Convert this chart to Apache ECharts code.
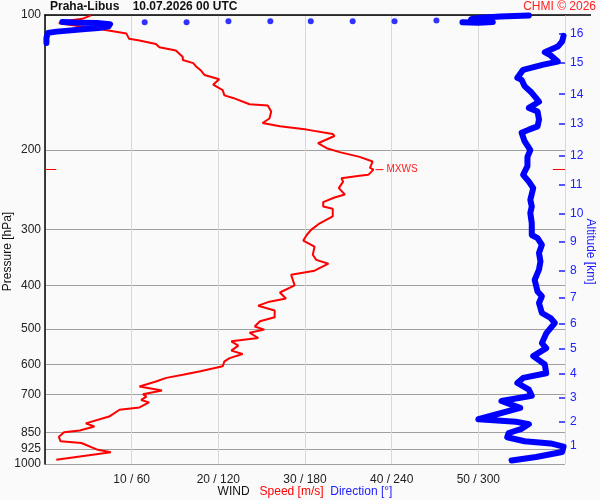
<!DOCTYPE html>
<html><head><meta charset="utf-8">
<script src="https://cdn.jsdelivr.net/npm/echarts@6/dist/echarts.min.js"></script>
<style>html,body{margin:0;padding:0;background:#fafafa}#c{width:600px;height:500px}</style>
</head><body><div id="c"></div>
<script>
const FONT = '"Liberation Sans", Arial, sans-serif';
const pressureTicks = [100, 200, 300, 400, 500, 600, 700, 850, 925, 1000];
const altKm = [1, 2, 3, 4, 5, 6, 7, 8, 9, 10, 11, 12, 13, 14, 15, 16];
const altPres = [912, 803.5, 710.7, 628.5, 552.8, 487.2, 425.8, 370.7, 320.4, 277.7, 239.2, 205.6, 175.0, 150.1, 127.8, 110.3];

const speedVal = [1.3,7.6,6.1,4.2,1.8,1.6,2.2,4.0,5.7,4.7,4.9,7.4,8.6,10.9,12.0,11.1,11.7,11.3,13.5,10.9,10.7,12.8,14.0,15.9,17.8,20.5,20.7,21.3,22.8,21.5,22.3,21.5,24.6,23.6,25.3,24.2,24.8,26.5,26.5,24.6,25.9,27.8,27.1,28.8,28.4,31.1,32.7,31.3,30.9,31.1,29.8,30.2,30.7,31.7,33.2,33.2,32.1,32.1,33.4,34.6,33.9,34.4,34.2,36.3,37.3,37.9,37.5,37.8,36.3,34.0,32.5,31.5,33.4,33.2,30.2,27.1,25.1,25.9,26.1,25.7,23.6,21.7,20.7,20.5,19.4,20.1,18.4,18.0,17.4,17.1,15.9,15.9,15.1,13.2,12.8,10.9,9.7,9.4,6.8,4.0,1.6,2.4,4.3,5.3];
const speedPres = [978,942,930,898,890,870,850,842,825,812,805,784,757,748,729,720,708,699,686,672,666,655,643,633,622,606,591,581,569,559,545,533,524,510,502,494,481,471,455,444,435,428,415,400,379,371,358,351,342,328,318,309,301,291,281,270,267,261,255,251,243,235,231,228,227,221,219,212,207,202,198,193,186,184,180,177,174,170,164,159,158,153,151,147,143,139,136,133,130,128,126,124,120,118,116,114,113,110,107.9,106,104.3,103.1,102,100.2];

const dirVal = [323,340,358,359,350,332,320,321,330,335,326,300,329,316,331,337,335,327,331,347,346,338,347,344,347,353,350,344,342,344,341,339,342,343,342,344,341,337,337,336,337,336,338,335,331,334,334,336,332,330,335,341,342,341,335,342,337,332,330,327,331,345,355,350,346,355,358,359];
const dirPres = [982,965,940,915,900,890,872,853,835,815,805,795,750,724,710,705,683,660,643,628,600,575,552,538,512,485,473,461,438,423,413,389,369,354,339,325,314,309,291,276,267,258,243,235,227,217,207,200,191,183,180,177,171,164,161,156,149,144,139.5,138,132.5,129,127,123,121,117.6,114.6,111.3];

const dirTopLeftVal = [1,1,2,8,18,28,37,44,45,36,24,12];
const dirTopLeftPres = [115.4,112.4,109.6,108.9,108.2,107.5,106.9,106,104.8,104.2,104,103.6];
const dirTopRightVal = [289,300,310,305,295,300,315,335];
const dirTopRightPres = [103.8,104,103.6,102.8,102.2,101.5,100.8,100.2];
const dirDotVal = [69,98,127,156,184,213,242,271];
const dirDotPres = [103.8,103.8,103.3,103.3,103.3,103.3,103.3,102.8];

const zip = (a, b) => a.map((v, i) => [v, b[i]]);
const iMax = speedVal.indexOf(Math.max(...speedVal));
const vMax = speedVal[iMax], pMax = speedPres[iMax];

const blueLine = { color: '#0000ff', width: 6, cap: 'round', join: 'round' };

const chart = echarts.init(document.getElementById('c'), null, { renderer: 'canvas' });
chart.setOption({
  backgroundColor: '#fafafa',
  animation: false,
  textStyle: { fontFamily: FONT },
  title: [
    { text: 'Praha-Libus    10.07.2026 00 UTC', left: 50, top: 1, padding: 0,
      textStyle: { fontSize: 12, fontWeight: 'bold', color: '#111', fontFamily: FONT } },
    { text: 'CHMI © 2026', right: 4, top: 1, padding: 0,
      textStyle: { fontSize: 12, fontWeight: 'normal', color: '#ff2020', fontFamily: FONT } }
  ],
  grid: { left: 45, right: 35, top: 15, bottom: 36, containLabel: false, outerBoundsMode: 'none' },
  xAxis: [
    { type: 'value', min: 0, max: 60, interval: 10, position: 'bottom',
      axisLine: { show: false, onZero: false }, axisTick: { show: false },
      axisLabel: { color: '#222', fontSize: 12, margin: 10,
        formatter: v => (v === 0 || v === 60) ? '' : v + ' / ' + v * 6 },
      splitLine: { show: true, lineStyle: { color: '#d8d8d8', width: 1 } },
      name: '{a|WIND}   {b|Speed [m/s]}  {c|Direction [°]}', nameLocation: 'middle', nameGap: 22,
      nameMoveOverlap: false,
      nameTextStyle: { fontSize: 12, rich: {
        a: { color: '#111', fontSize: 12, fontFamily: FONT },
        b: { color: '#ff0000', fontSize: 12, fontFamily: FONT },
        c: { color: '#2020ff', fontSize: 12, fontFamily: FONT } } } },
    { type: 'value', min: 0, max: 360, position: 'top',
      axisLine: { show: true, onZero: false, lineStyle: { color: '#000', width: 1.5 } },
      axisTick: { show: false }, axisLabel: { show: false }, splitLine: { show: false } }
  ],
  yAxis: [
    { type: 'log', logBase: 10, min: 100, max: 1000, inverse: true, position: 'left',
      axisLine: { show: true, onZero: false, lineStyle: { color: '#000', width: 1.5 } },
      axisTick: { show: false, customValues: pressureTicks },
      axisLabel: { customValues: pressureTicks, color: '#222', fontSize: 12, margin: 4,
        formatter: v => String(Math.round(v)) },
      splitLine: { show: true, lineStyle: { color: '#a0a0a0', width: 1 } },
      name: 'Pressure [hPa]', nameLocation: 'middle', nameGap: 31, nameRotate: 90,
      nameMoveOverlap: false,
      nameTextStyle: { fontSize: 12, color: '#111', padding: [0, 24, 0, 0] } },
    { type: 'log', logBase: 10, min: 100, max: 1000, inverse: true, position: 'right',
      axisLine: { show: false, onZero: false },
      axisTick: { show: true, inside: true, length: 6, customValues: altPres,
        lineStyle: { color: '#2020ff', width: 1.5 } },
      axisLabel: { customValues: altPres, color: '#2020ff', fontSize: 12, margin: 5,
        formatter: v => {
          let best = 0;
          altPres.forEach((p, i) => { if (Math.abs(p - v) < Math.abs(altPres[best] - v)) best = i; });
          return String(altKm[best]);
        } },
      splitLine: { show: false },
      name: 'Altitude [km]', nameLocation: 'middle', nameGap: 19, nameRotate: -90,
      nameMoveOverlap: false,
      nameTextStyle: { fontSize: 12, color: '#2020ff', padding: [0, 0, 0, 24] } }
  ],
  graphic: [
    { type: 'line', shape: { x1: 565, y1: 15, x2: 591, y2: 15 }, style: { stroke: '#000', lineWidth: 1.5 }, silent: true }
  ],
  series: [
    { name: 'Speed', type: 'line', xAxisIndex: 0, yAxisIndex: 0, data: zip(speedVal, speedPres),
      symbol: 'none', clip: true, z: 3,
      lineStyle: { color: '#ff0000', width: 2 },
      markPoint: { silent: true, symbol: 'rect', symbolSize: [8, 1], symbolOffset: [6, 0],
        itemStyle: { color: '#ff0000' },
        label: { show: true, position: 'right', distance: 3, formatter: 'MXWS', color: '#ff2020', fontSize: 10 },
        data: [{ coord: [vMax, pMax] }] },
      markLine: { silent: true, symbol: 'none', label: { show: false },
        lineStyle: { color: '#ff0000', width: 1, type: 'solid' },
        data: [ [{ coord: [0, pMax] }, { coord: [1.3, pMax] }],
                [{ coord: [58.6, pMax] }, { coord: [60, pMax] }] ] } },
    { name: 'Direction', type: 'line', xAxisIndex: 1, yAxisIndex: 0, data: zip(dirVal, dirPres),
      symbol: 'none', clip: true, z: 4, lineStyle: blueLine },
    { name: 'DirTopLeft', type: 'line', xAxisIndex: 1, yAxisIndex: 0, data: zip(dirTopLeftVal, dirTopLeftPres),
      symbol: 'none', clip: true, z: 4, lineStyle: blueLine },
    { name: 'DirTopRight', type: 'line', xAxisIndex: 1, yAxisIndex: 0, data: zip(dirTopRightVal, dirTopRightPres),
      symbol: 'none', clip: true, z: 4, lineStyle: blueLine },
    { name: 'DirDots', type: 'scatter', xAxisIndex: 1, yAxisIndex: 0, data: zip(dirDotVal, dirDotPres),
      symbolSize: 6, itemStyle: { color: '#0000ff' }, z: 4 }
  ]
});
</script></body></html>
